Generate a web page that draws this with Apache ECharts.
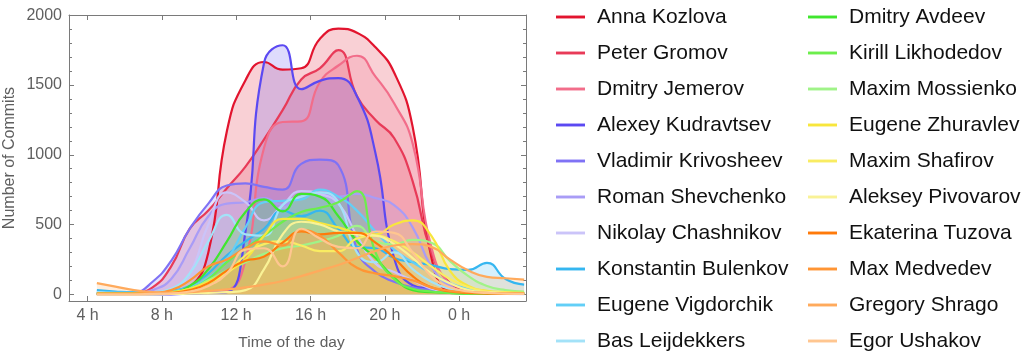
<!DOCTYPE html>
<html>
<head>
<meta charset="utf-8">
<script src="https://cdn.jsdelivr.net/npm/echarts@6/dist/echarts.min.js"></script>
<style>html,body{margin:0;padding:0;background:#fff}#c{width:1027px;height:361px}</style>
</head>
<body>
<div id="c"></div>
<script>
// hour-of-day bins (24 = midnight of next day)
const hours = [4.5,5.5,6.5,7.5,8.5,9.5,10.5,11.5,12.5,13.5,14.5,15.5,16.5,17.5,18.5,19.5,20.5,21.5,22.5,23.5,24.5,25.5,26.5,27.5];

const names = ['Anna Kozlova','Peter Gromov','Dmitry Jemerov','Alexey Kudravtsev','Vladimir Krivosheev','Roman Shevchenko','Nikolay Chashnikov','Konstantin Bulenkov','Eugene Vigdorchik','Bas Leijdekkers','Dmitry Avdeev','Kirill Likhodedov','Maxim Mossienko','Eugene Zhuravlev','Maxim Shafirov','Aleksey Pivovarov','Ekaterina Tuzova','Max Medvedev','Gregory Shrago','Egor Ushakov'];

const colors = ['#e2142e','#e83a58','#f26d8a','#5b49f2','#7f72f5','#a99cf6','#cbc4f9','#35b6f0','#62cff7','#a3e2f8','#40e62e','#6cee4c','#a0f388','#f8e63c','#f9ec62','#f9f296','#ff7a0a','#ff9534','#ffaa5c','#ffc690'];

const annaKozlova        = [2,2,3,5,10,50,300,1170,1535,1665,1610,1620,1830,1905,1875,1770,1590,1200,270,20,8,5,4,3];
const peterGromov        = [3,4,10,50,200,470,600,760,915,1110,1320,1540,1620,1750,1420,1250,1120,810,300,80,30,15,8,5];
const dmitryJemerov      = [0,0,0,2,5,10,20,30,245,1050,1235,1240,1520,1640,1710,1560,1370,1080,340,70,20,10,5,3];
const alexeyKudravtsev   = [5,3,2,0,0,5,10,15,450,1660,1785,1470,1530,1550,1420,1010,260,65,40,20,10,5,3,2];
const vladimirKrivosheev = [10,12,15,90,240,470,650,780,795,770,750,935,965,925,320,160,90,50,30,15,10,5,3,2];
const romanShevchenko    = [0,0,5,30,110,330,560,650,660,690,640,700,720,700,720,690,640,480,200,60,20,10,5,3];
const nikolayChashnikov  = [0,0,0,5,30,150,500,730,660,530,640,740,720,650,420,220,160,100,40,15,5,3,2,1];
const konstantinBulenkov = [30,20,15,15,25,60,150,280,380,470,600,560,600,470,340,330,260,230,210,180,175,225,110,70];
const eugeneVigdorchik   = [10,8,8,10,20,50,120,250,480,660,670,680,750,700,600,450,320,230,150,80,40,20,10,8];
const basLeijdekkers     = [15,10,10,15,40,150,380,570,430,420,640,700,730,660,300,230,300,180,90,40,20,15,10,10];
const dmitryAvdeev       = [5,5,5,8,15,60,180,380,590,680,595,720,700,560,380,260,120,30,15,10,5,5,5,5];
const kirillLikhodedov   = [5,5,5,8,15,40,110,230,330,420,520,590,620,660,740,300,110,40,20,10,5,5,5,5];
const maximMossienko     = [5,5,5,8,15,40,100,170,230,290,330,350,380,420,490,380,360,390,370,240,130,60,30,20];
const eugeneZhuravlev    = [3,3,5,8,15,40,90,160,250,420,540,540,510,480,440,430,500,530,420,170,60,25,15,10];
const maximShafirov      = [3,3,3,5,10,30,80,150,280,360,380,350,310,310,400,420,380,300,200,110,50,20,10,5];
const alekseyPivovarov   = [0,0,0,0,2,5,10,15,30,180,430,520,500,450,430,420,360,260,150,80,30,15,10,5];
const ekaterinaTuzova    = [3,3,3,5,10,30,80,170,240,270,370,450,430,440,440,370,260,130,50,20,10,5,5,5];
const maxMedvedev        = [5,5,5,10,30,100,200,250,330,380,350,460,420,300,190,150,130,100,50,25,15,10,5,5];
const gregoryShrago      = [80,55,30,15,10,15,25,35,50,70,95,130,170,210,260,310,350,360,340,250,170,125,115,105];
const egorUshakov        = [0,0,0,2,5,20,60,150,320,330,200,470,400,340,330,450,440,300,130,50,20,10,5,3];

const seriesValues = [annaKozlova,peterGromov,dmitryJemerov,alexeyKudravtsev,vladimirKrivosheev,romanShevchenko,nikolayChashnikov,konstantinBulenkov,eugeneVigdorchik,basLeijdekkers,dmitryAvdeev,kirillLikhodedov,maximMossienko,eugeneZhuravlev,maximShafirov,alekseyPivovarov,ekaterinaTuzova,maxMedvedev,gregoryShrago,egorUshakov];

const xTickValues = [4,8,12,16,20,24];
const xTickLabels = ['4 h','8 h','12 h','16 h','20 h','0 h'];
const yTickValues = [0,500,1000,1500,2000];
const yTickLabels = ['0','500','1000','1500','2000'];
const yMinorValues = [];
for (let v = 0; v <= 2000; v += 100) yMinorValues.push(v);

const FRAME = '#7a7a7a';
const LABEL = '#5f5f5f';
const FONT = 'Liberation Sans, Arial, sans-serif';

const chart = echarts.init(document.getElementById('c'), null, {renderer:'canvas'});

const series = names.map((n, i) => ({
  name: n,
  type: 'line',
  xAxisIndex: 0,
  yAxisIndex: 0,
  data: hours.map((h, k) => [h, seriesValues[i][k]]),
  smooth: 0.5,
  showSymbol: false,
  symbol: 'none',
  lineStyle: {width: 2.2, color: colors[i]},
  itemStyle: {color: colors[i]},
  areaStyle: {color: colors[i], opacity: 0.2, origin: 0},
  emphasis: {disabled: true},
  animation: false
}));

const legendIcon = 'path://M0,0 L30,0 L30,3 L0,3 Z';
const legendCommon = {
  orient: 'vertical',
  icon: legendIcon,
  itemWidth: 29,
  itemHeight: 3,
  itemGap: 12,
  padding: 0,
  height: 356,
  selectedMode: false,
  textStyle: {fontSize: 21, fontFamily: FONT, color: '#111', lineHeight: 24, padding: [0,0,0,7]}
};

chart.setOption({
  animation: false,
  backgroundColor: '#fff',
  grid: {left: 69, top: 15, width: 457, height: 286, containLabel: false},
  legend: [
    Object.assign({}, legendCommon, {left: 556, top: 5, data: names.slice(0, 10)}),
    Object.assign({}, legendCommon, {left: 808, top: 5, data: names.slice(10)})
  ],
  xAxis: [
    {
      type: 'value', min: 3, max: 27.6, position: 'bottom',
      name: 'Time of the day', nameLocation: 'middle', nameGap: 34,
      nameTextStyle: {fontSize: 15.5, color: LABEL, fontFamily: FONT, padding: [0, 12, 0, 0]},
      axisLine: {show: true, onZero: false, lineStyle: {color: FRAME, width: 1}},
      axisTick: {show: true, inside: true, length: 5, customValues: xTickValues, lineStyle: {color: FRAME}},
      axisLabel: {show: true, customValues: xTickValues, margin: 7, fontSize: 16, color: LABEL, fontFamily: FONT,
        formatter: v => { const i = xTickValues.indexOf(Math.round(v)); return i >= 0 ? xTickLabels[i] : ''; }},
      splitLine: {show: false}
    },
    {
      type: 'value', min: 3, max: 27.6, position: 'top',
      axisLine: {show: true, onZero: false, lineStyle: {color: FRAME, width: 1}},
      axisTick: {show: true, inside: true, length: 5, customValues: xTickValues, lineStyle: {color: FRAME}},
      axisLabel: {show: false},
      splitLine: {show: false}
    }
  ],
  yAxis: [
    {
      type: 'value', min: -48, max: 2002, position: 'left',
      name: 'Number of Commits', nameLocation: 'middle', nameGap: 51, nameRotate: 90,
      nameTextStyle: {fontSize: 16, color: LABEL, fontFamily: FONT},
      axisLine: {show: true, onZero: false, lineStyle: {color: FRAME, width: 1}},
      axisTick: {show: true, inside: true, length: 5, customValues: yTickValues, lineStyle: {color: FRAME}},
      axisLabel: {show: true, customValues: yTickValues, margin: 7, fontSize: 16, color: LABEL, fontFamily: FONT,
        formatter: v => { const i = yTickValues.indexOf(Math.round(v)); return i >= 0 ? yTickLabels[i] : ''; }},
      splitLine: {show: false}
    },
    {
      type: 'value', min: -48, max: 2002, position: 'right',
      axisLine: {show: true, onZero: false, lineStyle: {color: FRAME, width: 1}},
      axisTick: {show: true, inside: true, length: 5, customValues: yTickValues, lineStyle: {color: FRAME}},
      axisLabel: {show: false},
      splitLine: {show: false}
    },
    {
      type: 'value', min: -48, max: 2002, position: 'left',
      axisLine: {show: false},
      axisTick: {show: true, inside: true, length: 3, customValues: yMinorValues, lineStyle: {color: FRAME}},
      axisLabel: {show: false},
      splitLine: {show: false}
    },
    {
      type: 'value', min: -48, max: 2002, position: 'right',
      axisLine: {show: false},
      axisTick: {show: true, inside: true, length: 3, customValues: yMinorValues, lineStyle: {color: FRAME}},
      axisLabel: {show: false},
      splitLine: {show: false}
    }
  ],
  series: series
});
</script>
</body>
</html>
